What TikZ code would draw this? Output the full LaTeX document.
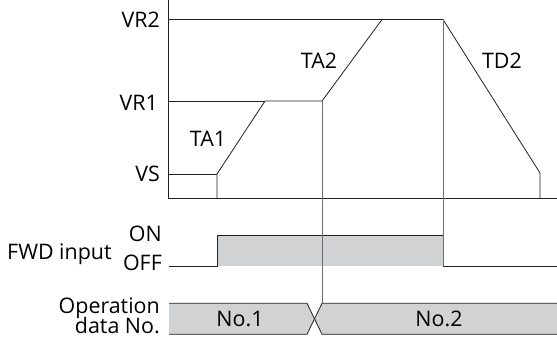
\documentclass[tikz,border=0pt]{standalone}
\usepackage{fontspec}
\setmainfont{Open Sans}
\usetikzlibrary{positioning}
\definecolor{tcLine}{HTML}{231F20}
\definecolor{tcGuide}{HTML}{6D6E71}
\definecolor{tcFill}{HTML}{D1D2D4}

\begin{document}
\begin{tikzpicture}[
    x=1bp, y=-1bp,
    every node/.style={font=\fontsize{21.5}{24}\selectfont, inner sep=0pt},
    % --- node styles ---
    lvl/.style={anchor=base east},
    tag/.style={anchor=base},
    % --- line styles ---
    ln/.style={line width=0.8bp, draw=tcLine},
    guide/.style={line width=0.8bp, draw=tcGuide},
    band/.style={fill=tcFill, draw=none},
]
\useasboundingbox (0,0) rectangle (557,342);

% ===== SPEED PROFILE ========================================================

% -- points of the profile --
\coordinate (org)  at (168,198);
\coordinate (vs)   at (217,174);
\coordinate (acc1) at (265,101);
\coordinate (sw)   at (322,101);
\coordinate (acc2) at (382,19.5);
\coordinate (off)  at (443,19.5);
\coordinate (dec)  at (540,173);

% -- axes --
\draw[ln] (168,0) -- (org) -- (557,198);

% -- level lines --
\draw[ln] (168,174)  -- (vs);
\draw[ln] (168,101)  -- (acc1);
\draw[ln] (168,19.5) -- (acc2);

% -- profile --
\draw[ln] (217,198) -- (vs) -- (acc1) -- (sw) -- (acc2) -- (off) -- (dec) -- (540,198);

% -- level labels --
\node[lvl] (lvr2) at (160,27.3)  {VR2};
\node[lvl] (lvr1) at (158,110)   {VR1};
\node[lvl] (lvs)  at (160,181.7) {VS};

% -- ramp labels --
\node[tag] (lta1) at (208,146.7) {TA1};
\node[tag] (lta2) at (319,68.3)  {TA2};
\node[tag] (ltd2) at (502,68.3)  {TD2};


% ===== FWD INPUT ============================================================

\coordinate (fon)  at (217,235.7);
\coordinate (foff) at (443,266);

\fill[band] (fon) rectangle (foff);
\draw[ln] (169,266) -- (217,266) -- (fon) -- (443,235.7);
\draw[ln] (foff) -- (557,266);

\node[anchor=base west] (lfwd) at (7,259.3) {FWD input};
\node[lvl] (lon)  at (162,241.7) {ON};
\node[lvl] (loff) at (162,270.7) {OFF};


% ===== OPERATION DATA =======================================================

\coordinate (xc) at (314.5,318.8);

% -- No.1 --
\fill[band] (169,303.3) -- (307,303.3) -- (xc) -- (307,334.3) -- (169,334.3) -- cycle;
\draw[ln] (169,303.3) -- (307,303.3) -- (xc) -- (307,334.3) -- (169,334.3);
% -- No.2 --
\fill[band] (557,303.3) -- (322,303.3) -- (xc) -- (322,334.3) -- (557,334.3) -- cycle;
\draw[ln] (557,303.3) -- (322,303.3) -- (xc) -- (322,334.3) -- (557,334.3);

\node[lvl] (lop1) at (160,313.3) {Operation};
\node[lvl] (lop2) at (160,333.3) {data No.};
\node[tag] (lno1) at (240,326.7) {No.1};
\node[tag] (lno2) at (439,326.7) {No.2};

% -- timing guides --
\draw[guide] (sw)  -- (322,303.3);
\draw[guide] (off) -- (foff);

\end{tikzpicture}
\end{document}
